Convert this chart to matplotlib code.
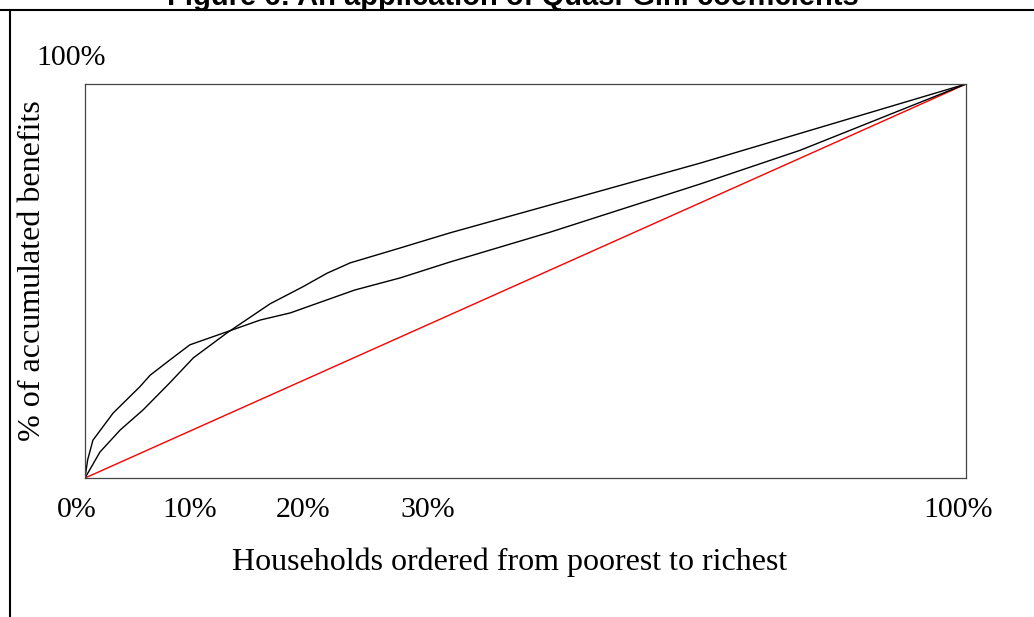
import matplotlib
matplotlib.use("Agg")
import matplotlib.pyplot as plt
from matplotlib.lines import Line2D

# concentration curves (share of households, share of benefits)
pop_a = [0, 0.003, 0.009, 0.032, 0.062, 0.074, 0.096, 0.119, 0.161, 0.199, 0.233,
         0.306, 0.358, 0.414, 0.528, 0.698, 0.812, 1.0]
ben_a = [0, 0.046, 0.096, 0.165, 0.231, 0.261, 0.299, 0.338, 0.371, 0.401, 0.419,
         0.477, 0.508, 0.548, 0.624, 0.746, 0.832, 1.0]

pop_b = [0, 0.017, 0.040, 0.066, 0.096, 0.123, 0.161, 0.210, 0.247, 0.275, 0.301,
         0.358, 0.414, 0.528, 0.698, 1.0]
ben_b = [0, 0.066, 0.122, 0.173, 0.241, 0.305, 0.368, 0.442, 0.485, 0.520, 0.546,
         0.584, 0.622, 0.693, 0.799, 1.0]

equality = [0, 1]

# x labels as they sit in the original (not on a true scale)
xlab_text = ["0%", "10%", "20%", "30%", "100%"]
xlab_pos = [-0.009, 0.119, 0.248, 0.389, 0.991]

title = "Figure 6: An application of Quasi-Gini coefficients"
serif = ["Liberation Serif", "DejaVu Serif"]

W, H = 1034, 617
fig = plt.figure(figsize=(W / 100, H / 100), dpi=100)
ax = fig.add_axes([85 / W, 1 - 478 / H, (966 - 85) / W, (478 - 84) / H])

ax.plot(equality, equality, color="red", lw=1.0)
ax.plot(pop_a, ben_a, color="black", lw=1.0)
ax.plot(pop_b, ben_b, color="black", lw=1.0)

ax.set_xlim(0, 1)
ax.set_ylim(0, 1)
ax.set_xticks([])
ax.set_yticks([])
for s in ax.spines.values():
    s.set_color("#444444")
    s.set_linewidth(0.9)

for t, p in zip(xlab_text, xlab_pos):
    ax.text(p, (478 - 517) / (478 - 84), t, transform=ax.transAxes, ha="center",
            va="baseline", family=serif, fontsize=21.5)

fig.text(71.5 / W, 1 - 65 / H, "100%", ha="center", va="baseline", family=serif,
         fontsize=21.5)
fig.text(33 / W, 1 - 271 / H, "% of accumulated benefits", rotation=90, ha="center",
         va="center", family=serif, fontsize=23)
fig.text(510 / W, 1 - 570 / H, "Households ordered from poorest to richest",
         ha="center", va="baseline", family=serif, fontsize=23)

fig.text(513 / W, 1 - 5 / H, title, ha="center", va="baseline",
         family=["Liberation Sans", "DejaVu Sans"], fontweight="bold", fontsize=21)

# frame lines at the top and left
fig.add_artist(Line2D([0, 1], [1 - 10 / H, 1 - 10 / H], transform=fig.transFigure,
                      color="black", lw=1.5))
fig.add_artist(Line2D([10 / W, 10 / W], [0, 1 - 10 / H], transform=fig.transFigure,
                      color="black", lw=1.5))

fig.savefig("out.png", dpi=100)
